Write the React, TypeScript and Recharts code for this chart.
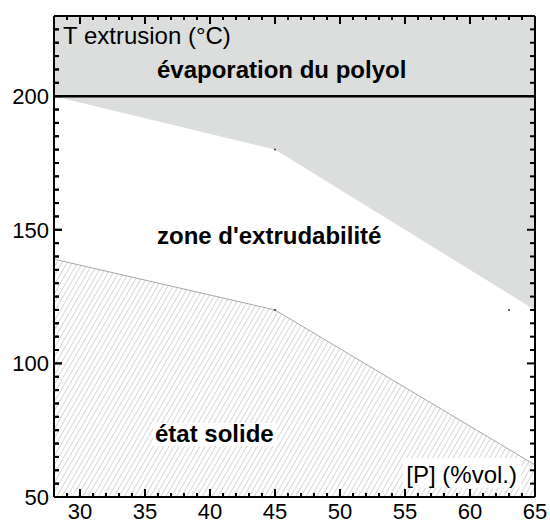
import { ComposedChart, Area, Line, Scatter, XAxis, YAxis, ReferenceDot } from 'recharts';

// [P] (%vol.) where the limits were read
const xValues = [28, 45, 65];
// lower edge of the grey "évaporation" zone (°C)
const evaporationLimit = [200, 180, 120];
// upper edge of the hatched "état solide" zone (°C)
const solidLimit = [139, 120, 62];

const polyolBoiling = 200;
const xMin = 28;
const xMax = 65;
const yMin = 50;
const yMax = 230;

const xMajorTicks = [30, 35, 40, 45, 50, 55, 60, 65];
const yMajorTicks = [50, 100, 150, 200];

// small stray markers visible on the figure
const markX = [45, 45, 63];
const markY = [180, 120, 120];

const xTicks: number[] = [];
for (let v = xMin; v <= xMax; v += 1) xTicks.push(v);
const yTicks: number[] = [];
for (let v = yMin; v <= yMax; v += 5) yTicks.push(v);

const data = xValues.map((x, i) => ({
    x,
    evap: [evaporationLimit[i], yMax],
    solid: [yMin, solidLimit[i]],
    solidTop: solidLimit[i],
    boiling: polyolBoiling,
}));

// inward tick marks on the four sides of the frame
const bottomMarks = xTicks.map((v) => ({ x: v, y: yMin, major: xMajorTicks.includes(v) }));
const topMarks = xTicks.map((v) => ({ x: v, y: yMax, major: xMajorTicks.includes(v) }));
const leftMarks = yTicks.map((v) => ({ x: xMin, y: v, major: yMajorTicks.includes(v) }));
const rightMarks = yTicks.map((v) => ({ x: xMax, y: v, major: yMajorTicks.includes(v) }));

const FONT = '"Liberation Sans", Arial, sans-serif';
const W = 550;
const H = 524;

function markShape(side: string) {
    return (p: any) => {
        const { cx, cy } = p;
        const major = p.payload?.major ?? p.major;
        if (cx == null || cy == null) return <g />;
        const len = side === 'left' || side === 'right' ? (major ? 8 : 5) : major ? 8 : 4;
        let d = '';
        if (side === 'bottom') d = `M${cx},${cy}V${cy - len}`;
        else if (side === 'top') d = `M${cx},${cy}V${cy + len}`;
        else if (side === 'left') d = `M${cx},${cy}H${cx + len}`;
        else d = `M${cx},${cy}H${cx - len}`;
        return <path d={d} stroke="#000" strokeWidth={2} fill="none" />;
    };
}

function BottomTick({ x, y, payload }: any) {
    const major = xMajorTicks.includes(payload.value);
    return (
        <g>
            <line x1={x} x2={x} y1={y} y2={y - (major ? 8 : 4)} stroke="#000" strokeWidth={2} />
            {major && (
                <text x={x} y={y + 22} textAnchor="middle" fontSize={22} fontFamily={FONT} fill="#000">
                    {payload.value}
                </text>
            )}
        </g>
    );
}

function LeftTick({ x, y, payload }: any) {
    const major = yMajorTicks.includes(payload.value);
    return (
        <g>
            <line x1={x} x2={x + (major ? 8 : 5)} y1={y} y2={y} stroke="#000" strokeWidth={2} />
            {major && (
                <text x={x - 5} y={y + 8} textAnchor="end" fontSize={22} fontFamily={FONT} fill="#000">
                    {payload.value}
                </text>
            )}
        </g>
    );
}

export default function App() {
    return (
        <div style={{ position: 'absolute', left: 0, top: 0, width: W, height: H, background: '#fff' }}>
            <ComposedChart width={W} height={H} data={data} margin={{ top: 15, right: 14, bottom: 26, left: 53 }}>
                <defs>
                    <pattern id="hatch" width="4.5" height="10" patternUnits="userSpaceOnUse" patternTransform="rotate(30)">
                        <rect width="4.5" height="10" fill="#fff" />
                        <line x1="0" y1="0" x2="0" y2="10" stroke="#b2b2b2" strokeWidth="1" />
                    </pattern>
                </defs>
                <XAxis
                    xAxisId="bottom"
                    dataKey="x"
                    type="number"
                    domain={[xMin, xMax]}
                    height={1}
                    ticks={xTicks}
                    interval={0}
                    tickSize={0}
                    tickMargin={0}
                    tickLine={false}
                    axisLine={{ stroke: '#000', strokeWidth: 2 }}
                    tick={(p: any) => <BottomTick {...p} />}
                />
                <XAxis
                    xAxisId="top"
                    orientation="top"
                    dataKey="x"
                    type="number"
                    domain={[xMin, xMax]}
                    height={1}
                    ticks={xTicks}
                    interval={0}
                    tickSize={0}
                    tickLine={false}
                    axisLine={{ stroke: '#000', strokeWidth: 2 }}
                    tick={false}
                />
                <YAxis
                    yAxisId="left"
                    type="number"
                    domain={[yMin, yMax]}
                    width={1}
                    ticks={yTicks}
                    interval={0}
                    tickSize={0}
                    tickMargin={0}
                    tickLine={false}
                    axisLine={{ stroke: '#000', strokeWidth: 2 }}
                    tick={(p: any) => <LeftTick {...p} />}
                />
                <YAxis
                    yAxisId="right"
                    orientation="right"
                    type="number"
                    domain={[yMin, yMax]}
                    width={1}
                    ticks={yTicks}
                    interval={0}
                    tickSize={0}
                    tickLine={false}
                    axisLine={{ stroke: '#000', strokeWidth: 2 }}
                    tick={false}
                />
                <Area xAxisId="bottom" yAxisId="left" dataKey="evap" type="linear" fill="#dcdddd" fillOpacity={1} stroke="none" isAnimationActive={false} />
                <Area xAxisId="bottom" yAxisId="left" dataKey="solid" type="linear" fill="url(#hatch)" fillOpacity={1} stroke="none" isAnimationActive={false} />
                <Line xAxisId="bottom" yAxisId="left" dataKey="solidTop" type="linear" stroke="#a8a8a8" strokeWidth={1} dot={false} isAnimationActive={false} />
                <Line xAxisId="bottom" yAxisId="left" dataKey="boiling" type="linear" stroke="#000" strokeWidth={2.5} dot={false} isAnimationActive={false} />
                {markX.map((mx, i) => (
                    <ReferenceDot key={i} xAxisId="bottom" yAxisId="left" x={mx} y={markY[i]} r={1} fill="#333" stroke="none" />
                ))}
                <Scatter xAxisId="bottom" yAxisId="left" data={bottomMarks} dataKey="y" shape={markShape('bottom')} isAnimationActive={false} />
                <Scatter xAxisId="bottom" yAxisId="left" data={topMarks} dataKey="y" shape={markShape('top')} isAnimationActive={false} />
                <Scatter xAxisId="bottom" yAxisId="left" data={leftMarks} dataKey="y" shape={markShape('left')} isAnimationActive={false} />
                <Scatter xAxisId="bottom" yAxisId="left" data={rightMarks} dataKey="y" shape={markShape('right')} isAnimationActive={false} />
            </ComposedChart>
            <svg width={W} height={H} style={{ position: 'absolute', left: 0, top: 0, pointerEvents: 'none' }} fontFamily={FONT}>
                <text x={63} y={44} fontSize={24} fill="#000">T extrusion (°C)</text>
                <text x={157} y={78} fontSize={24} fontWeight="bold" fill="#000">évaporation du polyol</text>
                <text x={157} y={244} fontSize={24} fontWeight="bold" fill="#000">zone d'extrudabilité</text>
                <rect x={153} y={423} width={124} height={23} fill="#fff" />
                <text x={155} y={442} fontSize={24} fontWeight="bold" fill="#000">état solide</text>
                <rect x={403} y={458} width={118} height={30} fill="#fff" />
                <text x={517} y={483} fontSize={24} textAnchor="end" fill="#000">[P] (%vol.)</text>
            </svg>
        </div>
    );
}
